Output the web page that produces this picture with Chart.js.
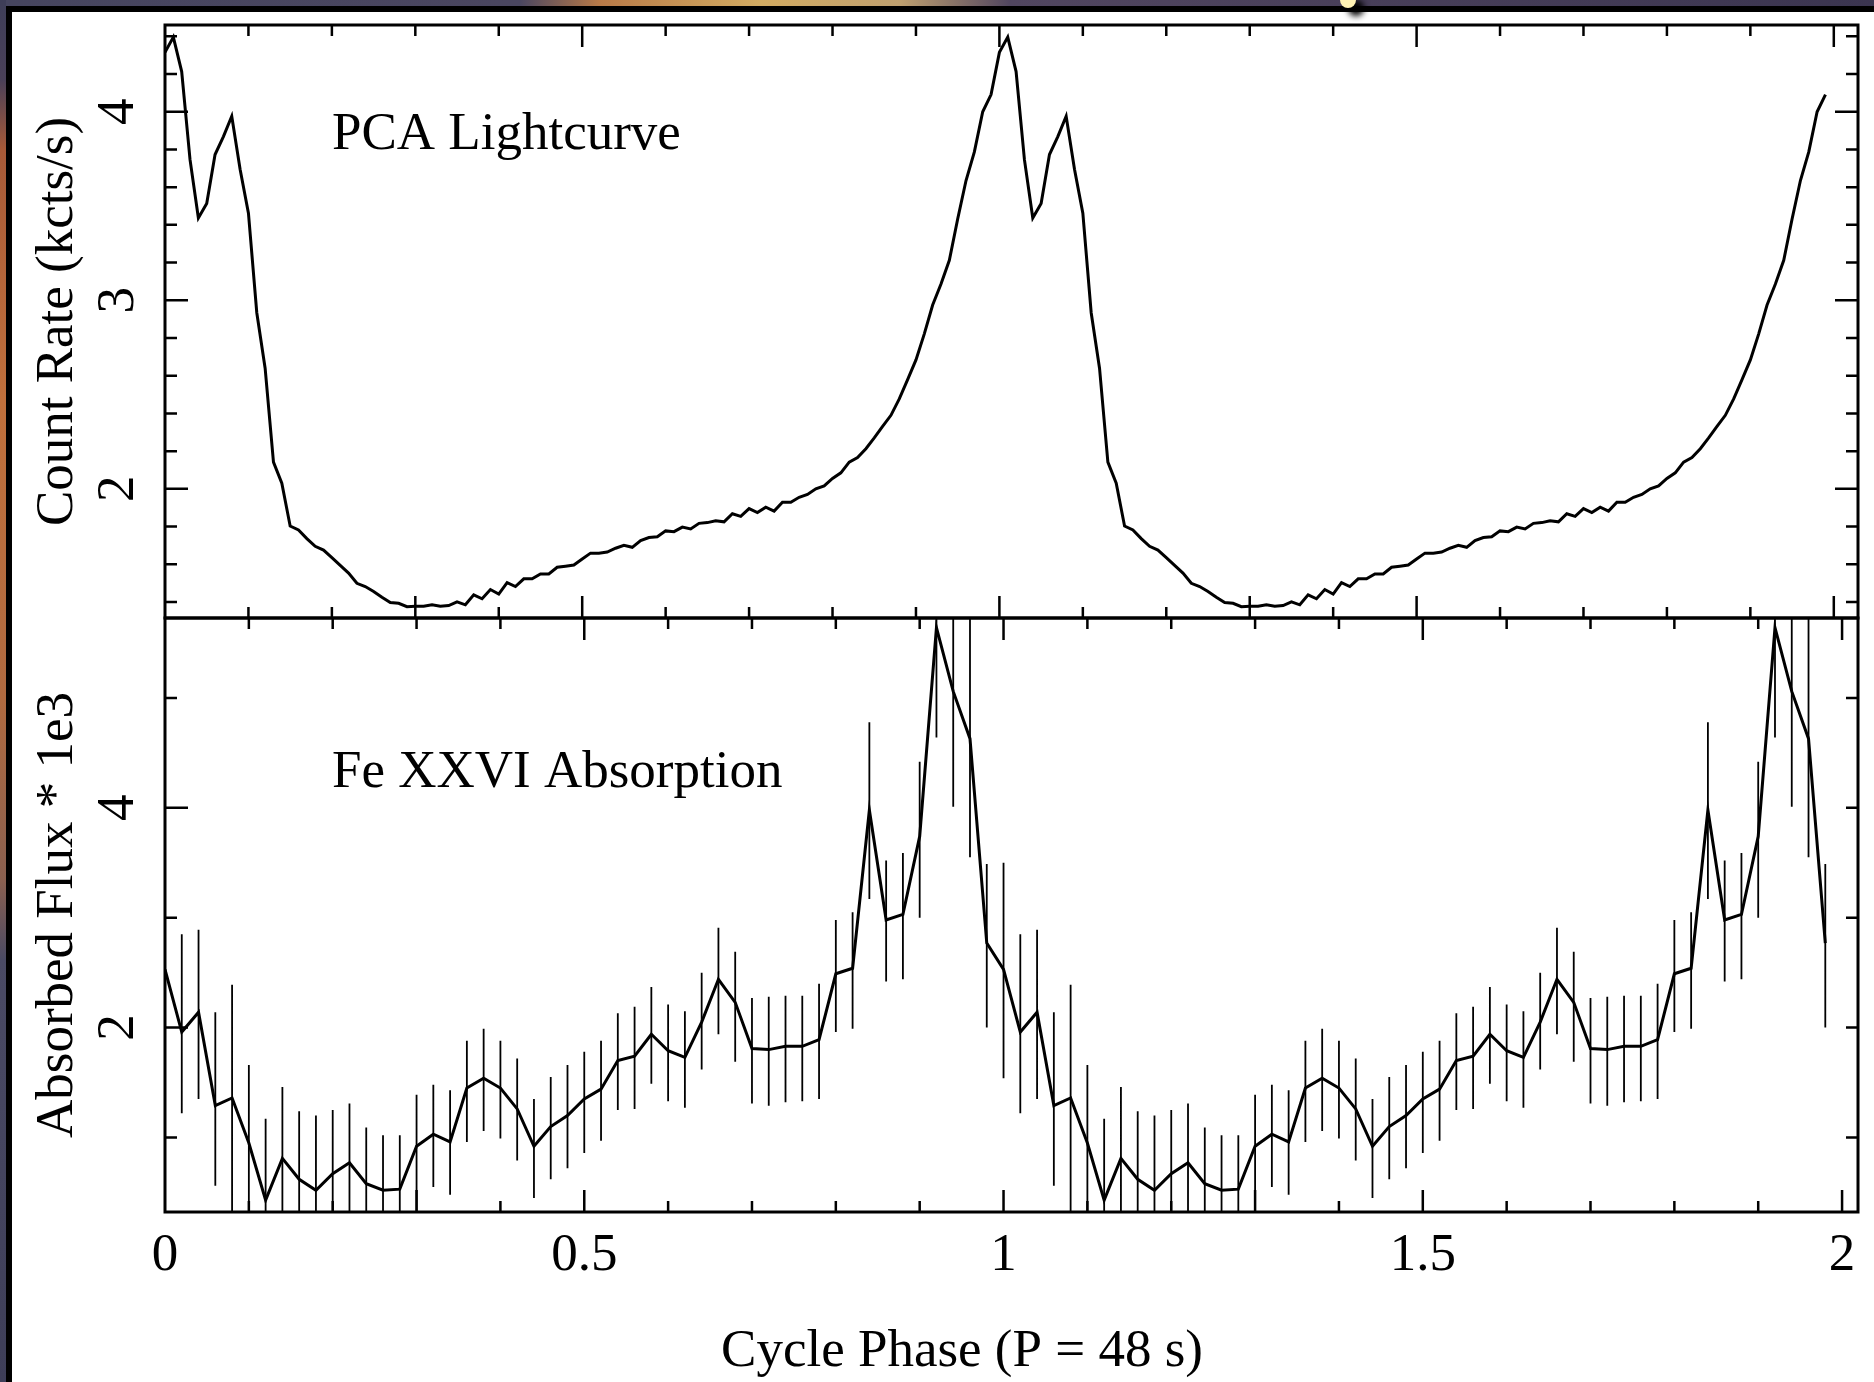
<!DOCTYPE html>
<html lang="en">
<head>
    <meta charset="UTF-8">
    <title>PCA Lightcurve / Fe XXVI Absorption</title>
    <script src="https://cdn.jsdelivr.net/npm/chart.js@4"></script>
    <style>
        body {
            margin: 0;
            width: 1874px;
            height: 1382px;
            overflow: hidden;
            position: relative;
            background-color: #fff;
        }

        /* slide background peeking out at the top and left edges */
        .strip-top {
            position: absolute;
            left: 0; top: 0;
            width: 1874px; height: 6px;
            background: linear-gradient(to right, #46455f 0, #4a4660 520px, #b87a48 600px, #d2ab62 760px, #bfa070 900px, #514660 1010px, #3b3550 1874px);
        }
        .strip-left {
            position: absolute;
            left: 0; top: 0;
            width: 6px; height: 1382px;
            background: linear-gradient(to bottom, #3e3e58 0, #4a4058 80px, #a85a38 150px, #c0703c 400px, #b06a40 700px, #8a6050 880px, #4a4a64 960px, #3e3e58 1382px);
        }
        .rule-top {
            position: absolute;
            left: 6px; top: 6px;
            width: 1868px; height: 6px;
            background: #000;
        }
        .rule-left {
            position: absolute;
            left: 6px; top: 6px;
            width: 6px; height: 1376px;
            background: #000;
        }
        .dot {
            position: absolute;
            left: 1340px; top: -8px;
            width: 16px; height: 16px;
            border-radius: 50%;
            background: #fff2b4;
            box-shadow: 8px 8px 6px #000;
        }

        canvas {
            position: absolute;
            left: 0;
            top: 0;
        }
    </style>
</head>
<body>
    <div class="strip-top"></div>
    <div class="strip-left"></div>
    <div class="rule-top"></div>
    <div class="rule-left"></div>
    <div class="dot"></div>
    <canvas id="pca" width="1874" height="1382"></canvas>
    <canvas id="fe" width="1874" height="1382"></canvas>

    <script>
        // PCA count rate (kcts/s), one cycle, phase bins of 0.01
        const rateCycle = [
            4.315, 4.396, 4.213, 3.746, 3.436, 3.513, 3.773, 3.868, 3.976, 3.695,
            3.462, 2.934, 2.640, 2.142, 2.030, 1.803, 1.782, 1.736, 1.695, 1.675,
            1.635, 1.594, 1.553, 1.499, 1.482, 1.456, 1.425, 1.397, 1.393, 1.375,
            1.377, 1.377, 1.385, 1.377, 1.381, 1.401, 1.385, 1.438, 1.417, 1.466,
            1.442, 1.503, 1.482, 1.523, 1.523, 1.549, 1.549, 1.584, 1.590, 1.596,
            1.628, 1.659, 1.659, 1.665, 1.685, 1.700, 1.690, 1.726, 1.742, 1.746,
            1.777, 1.773, 1.797, 1.787, 1.817, 1.821, 1.831, 1.825, 1.868, 1.854,
            1.895, 1.874, 1.903, 1.882, 1.929, 1.929, 1.955, 1.970, 2.000, 2.016,
            2.055, 2.085, 2.142, 2.166, 2.213, 2.270, 2.331, 2.390, 2.477, 2.579,
            2.684, 2.822, 2.975, 3.086, 3.212, 3.431, 3.635, 3.787, 4.000, 4.091
        ];

        // Fe XXVI absorbed flux * 1e3, one cycle, phase bins of 0.02
        const fluxCycle = [
            2.53, 1.96, 2.14, 1.29, 1.36, 0.95, 0.43, 0.81, 0.62, 0.52,
            0.67, 0.77, 0.58, 0.52, 0.53, 0.92, 1.03, 0.96, 1.45, 1.54,
            1.45, 1.26, 0.92, 1.10, 1.20, 1.35, 1.44, 1.70, 1.74, 1.94,
            1.79, 1.73, 2.05, 2.44, 2.23, 1.81, 1.80, 1.83, 1.83, 1.89,
            2.49, 2.54, 3.98, 2.98, 3.03, 3.74, 5.64, 5.06, 4.63, 2.77
        ];
        const fluxErrUp = [
            0.97, 0.89, 0.75, 0.85, 1.03, 0.71, 0.74, 0.65, 0.62, 0.68,
            0.58, 0.54, 0.51, 0.50, 0.49, 0.47, 0.45, 0.47, 0.43, 0.45,
            0.43, 0.46, 0.43, 0.45, 0.46, 0.43, 0.44, 0.43, 0.45, 0.43,
            0.42, 0.42, 0.45, 0.47, 0.46, 0.46, 0.48, 0.46, 0.46, 0.51,
            0.49, 0.51, 0.80, 0.54, 0.56, 0.68, 1.00, 1.05, 1.10, 0.72
        ];
        const fluxErrDown = [
            0.99, 0.74, 0.79, 0.73, 1.10, 0.75, 0.70, 0.65, 0.62, 0.68,
            0.58, 0.55, 0.52, 0.50, 0.50, 0.62, 0.48, 0.48, 0.49, 0.48,
            0.46, 0.47, 0.47, 0.48, 0.48, 0.49, 0.47, 0.45, 0.48, 0.45,
            0.46, 0.46, 0.43, 0.50, 0.54, 0.50, 0.51, 0.51, 0.50, 0.54,
            0.53, 0.55, 0.81, 0.56, 0.59, 0.74, 1.00, 1.05, 1.08, 0.77
        ];

        const phaseTickLabels = [0, 0.5, 1, 1.5, 2];
        const rateTickLabels = [2, 3, 4];
        const fluxTickLabels = [2, 4];

        const FONT = '53px "Liberation Serif", "Times New Roman", serif';

        // the folded cycle is shown twice, as in the original figure
        function twoCycles(values, step) {
            const pts = [];
            for (let c = 0; c < 2; c++) {
                values.forEach((v, i) => pts.push({ x: c + i * step, y: v }));
            }
            return pts;
        }

        function withErrors(points) {
            const n = fluxCycle.length;
            return points.map((p, i) => ({
                x: p.x, y: p.y,
                hi: p.y + fluxErrUp[i % n],
                lo: p.y - fluxErrDown[i % n]
            }));
        }

        function steps(from, to, step) {
            const out = [];
            for (let v = from; v <= to + step / 2; v += step) out.push(Math.round(v * 100) / 100);
            return out;
        }

        const framePlugin = {
            id: 'frame',
            beforeDatasetsDraw(chart, args, o) {
                if (!o.errorBars) return;
                const { ctx, chartArea: a, scales: { x, y } } = chart;
                ctx.save();
                ctx.beginPath();
                ctx.rect(a.left, a.top, a.right - a.left, a.bottom - a.top);
                ctx.clip();
                ctx.strokeStyle = '#000';
                ctx.lineWidth = 1.8;
                ctx.beginPath();
                chart.data.datasets[0].data.forEach(p => {
                    const px = x.getPixelForValue(p.x);
                    ctx.moveTo(px, y.getPixelForValue(p.hi));
                    ctx.lineTo(px, y.getPixelForValue(p.lo));
                });
                ctx.stroke();
                ctx.restore();
            },
            afterDraw(chart, args, o) {
                const { ctx, chartArea: a, scales: { x, y } } = chart;
                ctx.save();
                ctx.strokeStyle = '#000';
                ctx.fillStyle = '#000';

                // x ticks, pointing inwards
                ctx.lineWidth = 2.5;
                ctx.beginPath();
                steps(0.1, 2, 0.1).forEach(v => {
                    const px = x.getPixelForValue(v);
                    const top = o.xMajorTop.includes(v) ? 22 : 11;
                    const bot = o.xMajorBottom.includes(v) ? 22 : 11;
                    ctx.moveTo(px, a.top); ctx.lineTo(px, a.top + top);
                    ctx.moveTo(px, a.bottom); ctx.lineTo(px, a.bottom - bot);
                });
                // y ticks, left and right
                o.yTicks.forEach(v => {
                    const py = y.getPixelForValue(v);
                    const major = o.yLabels.includes(v);
                    ctx.moveTo(a.left, py); ctx.lineTo(a.left + (major ? 23 : 12), py);
                    ctx.moveTo(a.right, py); ctx.lineTo(a.right - (major && o.rightMajor ? 23 : 12), py);
                });
                ctx.stroke();

                // plot frame
                ctx.lineWidth = 3;
                ctx.strokeRect(a.left, a.top, a.right - a.left, a.bottom - a.top);

                ctx.font = FONT;

                // rotated y tick labels and title
                o.yLabels.forEach(v => {
                    ctx.save();
                    ctx.translate(133, y.getPixelForValue(v));
                    ctx.rotate(-Math.PI / 2);
                    ctx.textAlign = 'center';
                    ctx.textBaseline = 'alphabetic';
                    ctx.fillText(String(v), 0, 0);
                    ctx.restore();
                });
                ctx.save();
                ctx.translate(72, (a.top + a.bottom) / 2);
                ctx.rotate(-Math.PI / 2);
                ctx.textAlign = 'center';
                ctx.fillText(o.yTitle, 0, 0);
                ctx.restore();

                // panel caption
                ctx.textAlign = 'left';
                ctx.fillText(o.caption, 332, o.captionY);

                // x labels only under the lower panel
                if (o.xLabels) {
                    ctx.textAlign = 'center';
                    o.xLabels.forEach(v => ctx.fillText(String(v), x.getPixelForValue(v), a.bottom + 58));
                    ctx.fillText(o.xTitle, 962, a.bottom + 154);
                }
                ctx.restore();
            }
        };

        function panel(canvasId, data, pad, xMax, yMin, yMax, frame) {
            return new Chart(document.getElementById(canvasId), {
                type: 'line',
                data: {
                    datasets: [{
                        data: data,
                        borderColor: '#000',
                        borderWidth: 3,
                        pointRadius: 0,
                        fill: false,
                        tension: 0
                    }]
                },
                options: {
                    responsive: false,
                    animation: false,
                    devicePixelRatio: 1,
                    layout: { padding: pad },
                    events: [],
                    plugins: {
                        legend: { display: false },
                        tooltip: { enabled: false },
                        frame: frame
                    },
                    scales: {
                        x: { type: 'linear', min: 0, max: xMax, display: false },
                        y: { type: 'linear', min: yMin, max: yMax, display: false }
                    }
                },
                plugins: [framePlugin]
            });
        }

        panel('pca', twoCycles(rateCycle, 0.01),
            { left: 165, top: 25, right: 16, bottom: 764 },
            2.029, 1.315, 4.46,
            {
                yTicks: steps(1.4, 4.4, 0.2),
                yLabels: rateTickLabels,
                rightMajor: true,
                xMajorTop: [0.5, 1, 1.5, 2],
                xMajorBottom: [0.3, 0.5, 1, 1.3, 1.5, 2],
                yTitle: 'Count Rate (kcts/s)',
                caption: 'PCA Lightcurve',
                captionY: 149,
                errorBars: false
            });

        panel('fe', withErrors(twoCycles(fluxCycle, 0.02)),
            { left: 165, top: 618, right: 16, bottom: 170 },
            2.019, 0.322, 5.728,
            {
                yTicks: steps(1, 5, 1),
                yLabels: fluxTickLabels,
                rightMajor: false,
                xMajorTop: [0.5, 1, 1.5, 2],
                xMajorBottom: [0.3, 0.5, 1, 1.3, 1.5, 2],
                yTitle: 'Absorbed Flux * 1e3',
                caption: 'Fe XXVI Absorption',
                captionY: 787,
                errorBars: true,
                xLabels: phaseTickLabels,
                xTitle: 'Cycle Phase (P = 48 s)'
            });
    </script>
</body>
</html>
